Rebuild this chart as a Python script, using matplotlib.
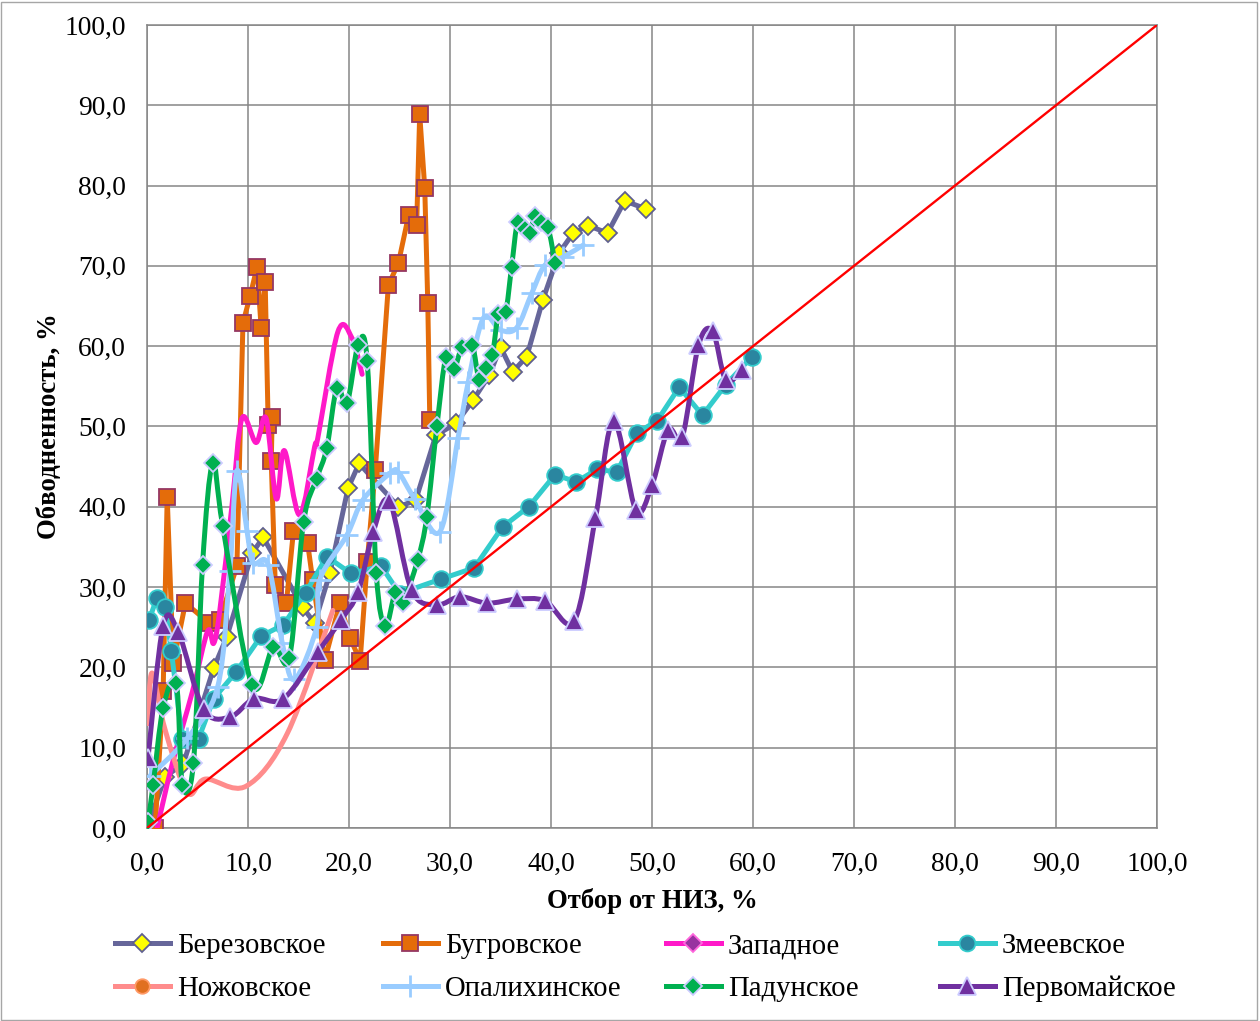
import numpy as np
import matplotlib
matplotlib.use("Agg")
import matplotlib.pyplot as plt
from matplotlib.path import Path
from matplotlib.patches import PathPatch, Rectangle
from matplotlib.lines import Line2D
from matplotlib.ticker import FuncFormatter

plt.rcParams['font.family'] = ['Liberation Serif', 'DejaVu Serif']

# ---------------- data ----------------
ber_x = [0.0, 1.8, 3.6, 6.6, 7.9, 10.4, 11.5, 15.4, 16.6, 18.1, 19.9, 21.0, 24.9, 26.6, 28.6, 30.6,
         32.3, 33.9, 35.0, 36.2, 37.6, 39.2, 40.8, 42.2, 43.7, 45.6, 47.3, 49.4]
ber_y = [0.0, 6.4, 8.0, 19.9, 23.8, 34.2, 36.2, 27.5, 25.5, 31.7, 42.3, 45.4, 40.0, 40.8, 48.9, 50.4,
         53.3, 56.4, 59.9, 56.8, 58.7, 65.8, 71.6, 74.1, 75.0, 74.1, 78.1, 77.1]

bug_x = [0.8, 1.6, 2.0, 2.6, 3.8, 6.2, 7.2, 8.9, 9.5, 10.2, 10.9, 11.3, 11.7, 12.0, 12.4, 12.3, 12.7,
         13.8, 14.5, 15.9, 16.4, 17.6, 19.1, 20.1, 21.1, 21.8, 22.6, 23.9, 24.9, 25.9, 26.7, 27.0,
         27.5, 27.8, 28.0]
bug_y = [0.0, 17.1, 41.2, 20.5, 28.0, 25.5, 25.9, 32.6, 62.9, 66.2, 69.9, 62.3, 68.0, 50.2, 51.2, 45.7,
         30.3, 28.0, 37.0, 35.5, 30.9, 20.9, 28.0, 23.7, 20.8, 33.1, 44.6, 67.6, 70.4, 76.3, 75.1,
         88.9, 79.7, 65.4, 50.8]

zap_x = [1.0, 2.5, 4.5, 6.0, 6.6, 7.2, 8.4, 9.4, 10.8, 11.8, 12.8, 13.6, 15.1, 16.6, 16.9, 18.9, 20.3, 21.3]
zap_y = [0.0, 8.0, 17.0, 24.5, 23.0, 27.0, 40.0, 51.0, 48.0, 51.0, 41.0, 47.0, 39.0, 47.5, 48.5, 61.8, 61.0, 56.5]

zme_x = [0.2, 1.0, 1.8, 2.4, 3.5, 5.1, 6.6, 8.8, 11.3, 13.5, 15.7, 17.8, 20.2, 23.2, 25.0, 29.1,
         32.4, 35.2, 37.8, 40.4, 42.5, 44.6, 46.5, 48.5, 50.5, 52.7, 55.0, 57.3, 59.9]
zme_y = [25.9, 28.7, 27.5, 22.1, 11.1, 11.1, 16.1, 19.4, 23.9, 25.3, 29.3, 33.8, 31.7, 32.6, 29.2, 31.0,
         32.4, 37.5, 40.0, 44.0, 43.1, 44.7, 44.3, 49.2, 50.7, 54.9, 51.4, 55.2, 58.7]

noz_x = [0.1, 0.5, 1.8, 4.0, 5.8, 9.8, 13.9, 18.4]
noz_y = [13.0, 19.3, 12.2, 4.4, 6.1, 5.2, 11.8, 27.1]

opa_x = [0.3, 4.0, 7.0, 8.2, 8.9, 9.9, 10.5, 12.0, 13.4, 14.6, 16.8, 17.1, 19.8, 21.4, 24.1, 24.9,
         26.5, 29.0, 30.8, 31.8, 33.3, 35.0, 36.6, 38.1, 39.4, 41.2, 43.2]
opa_y = [6.5, 11.2, 17.6, 32.0, 44.5, 37.0, 33.0, 32.8, 23.0, 18.5, 25.0, 30.9, 36.5, 40.9, 44.2, 44.3,
         41.0, 36.9, 48.6, 55.5, 63.5, 62.0, 62.3, 66.6, 70.1, 71.1, 72.6]

pad_x = [0.1, 0.6, 1.6, 2.9, 3.5, 4.6, 5.5, 6.5, 7.5, 10.4, 12.5, 14.1, 15.5, 16.8, 17.8, 18.8, 19.8,
         20.9, 21.8, 22.7, 23.6, 24.6, 25.3, 26.8, 27.7, 28.7, 29.6, 30.4, 31.2, 32.2, 32.9, 33.6,
         34.2, 34.8, 35.5, 36.1, 36.7, 37.4, 37.9, 38.4, 39.0, 39.7, 40.4]
pad_y = [0.7, 5.3, 15.0, 18.0, 5.4, 8.1, 32.8, 45.4, 37.6, 17.8, 22.5, 21.2, 38.1, 43.5, 47.3, 54.8, 52.9,
         60.1, 58.2, 31.8, 25.2, 29.4, 28.0, 33.4, 38.7, 50.0, 58.7, 57.2, 59.9, 60.1, 55.8, 57.3,
         58.9, 64.0, 64.2, 69.9, 75.5, 74.6, 74.1, 76.2, 75.5, 74.8, 70.4]

per_x = [0.1, 1.6, 3.1, 5.6, 8.2, 10.6, 13.5, 16.9, 19.2, 20.9, 22.4, 24.0, 26.2, 28.7, 31.0, 33.7,
         36.6, 39.4, 42.3, 44.4, 46.2, 48.4, 50.0, 51.6, 53.0, 54.6, 56.0, 57.3, 58.9]
per_y = [8.7, 25.2, 24.4, 14.8, 13.8, 16.1, 16.1, 21.9, 25.9, 29.4, 36.9, 40.7, 29.6, 27.8, 28.8, 28.0,
         28.5, 28.3, 25.8, 38.6, 50.7, 39.6, 42.7, 49.6, 48.7, 60.1, 61.9, 55.8, 57.0]

diag_x = [0, 100]
diag_y = [0, 100]

x_ticks = [0, 10, 20, 30, 40, 50, 60, 70, 80, 90, 100]
y_ticks = [0, 10, 20, 30, 40, 50, 60, 70, 80, 90, 100]

# ---------------- helpers ----------------
def smooth_path(x, y):
    pts = np.column_stack([x, y]).astype(float)
    n = len(pts)
    verts = [pts[0]]
    codes = [Path.MOVETO]
    for i in range(n - 1):
        p0 = pts[i - 1] if i > 0 else pts[i]
        p1 = pts[i]
        p2 = pts[i + 1]
        p3 = pts[i + 2] if i + 2 < n else pts[i + 1]
        c1 = p1 + (p2 - p0) / 6.0
        c2 = p2 - (p3 - p1) / 6.0
        verts += [c1, c2, p2]
        codes += [Path.CURVE4] * 3
    return Path(verts, codes)

LW = 3.6
TICK_FS = 19.8
LABEL_FS = 19.3
LEG_FS = 20.7

fig = plt.figure(figsize=(12.6, 10.21), dpi=100)
ax = fig.add_axes([147 / 1260, (1021 - 828) / 1021, 1010 / 1260, 803 / 1021])

series = [
    # label, x, y, line color, marker, face, edge, msize, smooth, show markers
    ("Березовское", ber_x, ber_y, "#66669A", "D", "#FFFF00", "#5F5F8F", 9.5, False, True),
    ("Бугровское", bug_x, bug_y, "#E46C0A", "s", "#E46C0A", "#953762", 11.5, False, True),
    ("Западное", zap_x, zap_y, "#FF19C8", "D", "#9933A0", "#FF66DD", 9.5, True, False),
    ("Змеевское", zme_x, zme_y, "#33CCCC", "o", "#2A86A0", "#33CCCC", 12, False, True),
    ("Ножовское", noz_x, noz_y, "#FF8C8C", "o", "#E07020", "#FF9966", 11, True, False),
    ("Опалихинское", opa_x, opa_y, "#99CCFF", "+", "#99CCFF", "#99CCFF", 16, True, True),
    ("Падунское", pad_x, pad_y, "#00B050", "D", "#00B050", "#CCCCFF", 9.5, True, True),
    ("Первомайское", per_x, per_y, "#7030A0", "^", "#7030A0", "#CCCCFF", 13, True, True),
]

handles = []
for k, (lab, xs, ys, lc, mk, fc, ec, ms, smooth, showm) in enumerate(series):
    z = 3 + k
    if smooth:
        patch = PathPatch(smooth_path(xs, ys), facecolor="none", edgecolor=lc, lw=LW,
                          zorder=z, capstyle="round", joinstyle="round")
        ax.add_patch(patch)
    else:
        ax.plot(xs, ys, color=lc, lw=LW, zorder=z, solid_joinstyle="round", solid_capstyle="round")
    if showm:
        mew = 2.0 if mk == "+" else 1.3
        ax.plot(xs, ys, linestyle="none", marker=mk, markersize=ms, markerfacecolor=fc,
                markeredgecolor=ec, markeredgewidth=mew, zorder=z + 0.5)
    handles.append(Line2D([0], [0], color=lc, lw=LW, marker=mk, markersize=ms * 0.95,
                          markerfacecolor=fc, markeredgecolor=ec,
                          markeredgewidth=(2.0 if mk == "+" else 1.3)))

ax.plot(diag_x, diag_y, color="#FF0000", lw=1.7, zorder=20)

ax.set_xlim(0, 100)
ax.set_ylim(0, 100)
ax.set_xticks(x_ticks)
ax.set_yticks(y_ticks)
fmt = FuncFormatter(lambda v, p: f"{v:.1f}".replace(".", ","))
ax.xaxis.set_major_formatter(fmt)
ax.yaxis.set_major_formatter(fmt)
ax.tick_params(axis="both", length=0, labelsize=TICK_FS, colors="black")
ax.tick_params(axis="x", pad=17)
ax.tick_params(axis="y", pad=15)
ax.grid(True, color="#868686", lw=1.1, zorder=0)
ax.set_axisbelow(True)
for sp in ax.spines.values():
    sp.set_color("#868686")
    sp.set_linewidth(1.1)

ax.set_xlabel("Отбор от НИЗ, %", fontsize=LABEL_FS, fontweight="bold", labelpad=8.5)
ax.set_ylabel("Обводненность, %", fontsize=LABEL_FS, fontweight="bold", labelpad=2)

# legend: 4 columns placed at fixed positions
col_x = [115, 383, 666, 940]
labels = [s[0] for s in series]
for c in range(4):
    idx = [c, c + 4]
    fig.legend([handles[i] for i in idx], [labels[i] for i in idx],
               loc="upper left", bbox_to_anchor=(col_x[c] / 1260, 1 - 933 / 1021),
               frameon=False, fontsize=LEG_FS, handlelength=1.9, handletextpad=0.25,
               labelspacing=0.58, borderaxespad=0, borderpad=0)

fig.patches.append(Rectangle((0.001, 0.001), 0.997, 0.997, transform=fig.transFigure,
                             fill=False, edgecolor="#A6A6A6", lw=1.0))

fig.savefig("out.png", dpi=100)
